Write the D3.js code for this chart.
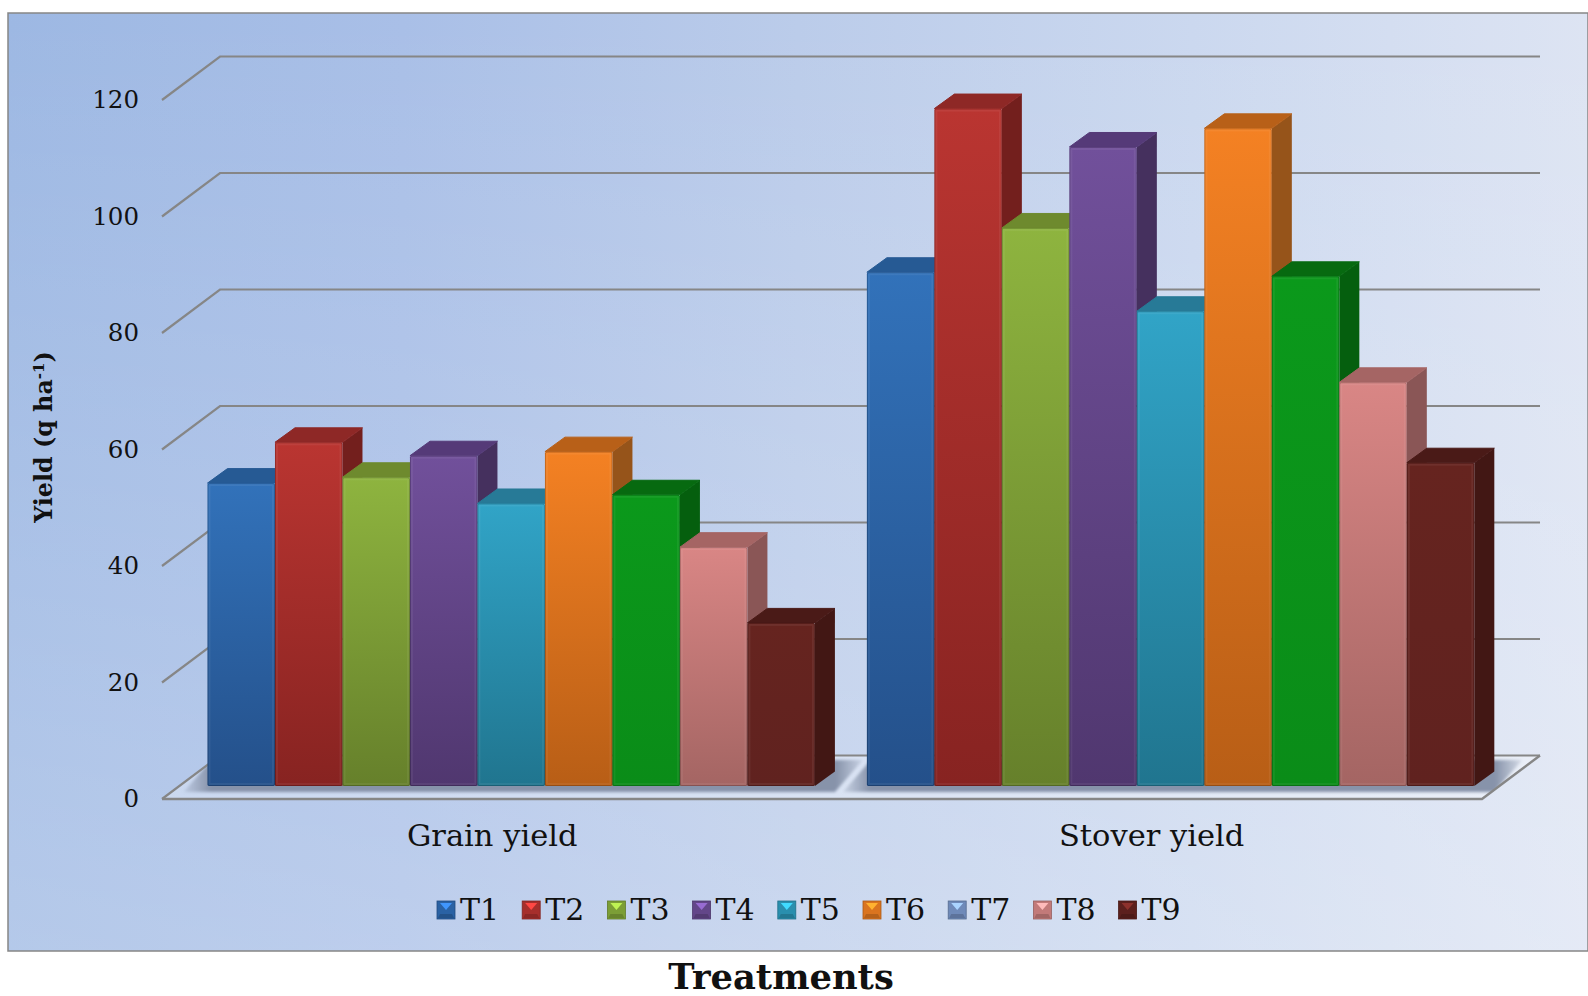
<!DOCTYPE html>
<html>
<head>
<meta charset="utf-8">
<script src="https://cdn.jsdelivr.net/npm/d3@7"></script>
<style>
html,body{margin:0;padding:0;background:#fff}
svg{display:block}
text{font-family:"DejaVu Serif",serif;fill:#111}
</style>
</head>
<body>
<svg id="chart" width="1588" height="996"></svg>
<script>
// Yield by treatment, drawn as a 3-D style clustered column chart.
const categories = ["Grain yield", "Stover yield"];
const treatments = ["T1", "T2", "T3", "T4", "T5", "T6", "T7", "T8", "T9"];
const grainYield = [52, 59, 53, 56.7, 48.5, 57.4, 50, 41, 28];
const stoverYield = [88.2, 116.3, 95.8, 109.7, 81.5, 112.9, 87.5, 69.3, 55.5];
const yTicks = [0, 20, 40, 60, 80, 100, 120];

const faceTop    = ["#3272ba", "#ba3531", "#8eb43f", "#71509b", "#31a4c7", "#f48123", "#0b991b", "#d98685", "#66241f"];
const faceBottom = ["#24508a", "#872321", "#66802b", "#50376f", "#20758f", "#b85e16", "#0a8c18", "#a46563", "#60221f"];
const capColor   = ["#265a94", "#8e2826", "#6e8a2e", "#553a78", "#277a97", "#b86018", "#076a10", "#a56564", "#4a1a17"];
const sideColor  = ["#234f82", "#731f1d", "#5d7526", "#45305e", "#1f6a84", "#96541a", "#055f0e", "#8a5656", "#421714"];
const keyColor   = ["#2a62a4", "#a62f2c", "#7c9e36", "#634689", "#2a8fae", "#da741f", "#6f8ab9", "#c27a79", "#5c201d"];

const svg = d3.select("#chart");
const defs = svg.append("defs");

// Frame geometry of the plot box
const frame = {x: 8, y: 13, w: 1580, h: 938};
const front = {left: 162, right: 1482, base: 799};
const wall = {dx: 58, dy: -43.5};
const barDepthShift = {dx: 19, dy: -13};
const barThick = {dx: 20, dy: -14.5};

const yScale = d3.scaleLinear().domain([0, 120]).range([front.base, front.base - 699]);
const xGroup = d3.scaleBand().domain(categories).range([162.5, 1481.3]);
const xBar = d3.scaleBand().domain(treatments).range([0, xGroup.bandwidth()]).paddingInner(0).paddingOuter(0.385);

// Panel background: a left-to-right wash with a pale veil rising from the bottom
const bg = defs.append("linearGradient").attr("id", "panelBg");
[["0%", "#9db8e3"], ["25%", "#a9bfe7"], ["50%", "#bbccea"], ["75%", "#cbd8ef"], ["100%", "#dde4f3"]]
  .forEach(([o, c]) => bg.append("stop").attr("offset", o).attr("stop-color", c));
const veil = defs.append("linearGradient").attr("id", "panelVeil").attr("x1", 0).attr("y1", 0).attr("x2", 0).attr("y2", 1);
[["0%", 0], ["100%", 0.24]]
  .forEach(([o, a]) => veil.append("stop").attr("offset", o).attr("stop-color", "#fff").attr("stop-opacity", a));
svg.append("rect").attr("x", frame.x).attr("y", frame.y).attr("width", frame.w).attr("height", frame.h)
  .attr("fill", "url(#panelBg)");
svg.append("rect").attr("x", frame.x).attr("y", frame.y).attr("width", frame.w).attr("height", frame.h)
  .attr("fill", "url(#panelVeil)").attr("stroke", "#868686").attr("stroke-width", 1.5);

const gridColor = "#868686";
const poly = pts => pts.map(p => p.join(",")).join(" ");

// Floor
const base0 = yScale(0);
svg.append("polygon")
  .attr("points", poly([[front.left, base0], [front.right, base0], [front.right + wall.dx, base0 + wall.dy], [front.left + wall.dx, base0 + wall.dy]]))
  .attr("fill", "#ffffff").attr("fill-opacity", 0.3);

defs.append("clipPath").attr("id", "floorClip").append("polygon")
  .attr("points", poly([[front.left, base0 - 1], [front.right, base0 - 1], [front.right + wall.dx, base0 + wall.dy], [front.left + wall.dx, base0 + wall.dy]]));
defs.append("filter").attr("id", "soft").attr("x", "-5%").attr("y", "-20%").attr("width", "110%").attr("height", "140%")
  .append("feGaussianBlur").attr("stdDeviation", 1.6);
const fade = defs.append("linearGradient").attr("id", "shadowFade");
[["0%", 0.2], ["4%", 1], ["96%", 1], ["100%", 0.2]]
  .forEach(([o, a]) => fade.append("stop").attr("offset", o).attr("stop-color", "#8793aa").attr("stop-opacity", a));

// Soft shadow pooled under each cluster
const shadowLayer = svg.append("g").attr("clip-path", "url(#floorClip)");
categories.forEach(c => {
  const x0 = xGroup(c) + xBar("T1") + barDepthShift.dx - 24;
  const x1 = xGroup(c) + xBar("T9") + xBar.bandwidth() + barDepthShift.dx + 20;
  const yF = base0 + barDepthShift.dy + 6;
  shadowLayer.append("polygon")
    .attr("points", poly([[x0, yF], [x1, yF], [x1 + 28, yF - 32], [x0 + 28, yF - 32]]))
    .attr("fill", "url(#shadowFade)").attr("filter", "url(#soft)");
});

// Gridlines on the side and back walls
const gridLayer = svg.append("g").attr("fill", "none").attr("stroke", gridColor);
yTicks.forEach(t => {
  const y = yScale(t);
  gridLayer.append("polyline")
    .attr("stroke-width", 2.2)
    .attr("points", poly([[front.left, y], [front.left + wall.dx, y + wall.dy], [front.right + wall.dx, y + wall.dy]]));
});
// Front and right edges of the floor
gridLayer.append("polyline").attr("stroke-width", 2.4)
  .attr("points", poly([[front.left, base0], [front.right, base0], [front.right + wall.dx, base0 + wall.dy]]));

// Vertical gradient for each column's front face
treatments.forEach((t, i) => {
  const g = defs.append("linearGradient").attr("id", "face" + t).attr("x1", 0).attr("y1", 0).attr("x2", 0).attr("y2", 1);
  g.append("stop").attr("offset", "0%").attr("stop-color", faceTop[i]);
  g.append("stop").attr("offset", "100%").attr("stop-color", faceBottom[i]);
});

// Columns, painted left to right so each one overlaps its neighbour's side
const seriesByCategory = [grainYield, stoverYield];
categories.forEach((c, ci) => {
  const group = svg.append("g").attr("class", "cluster");
  seriesByCategory[ci].forEach((v, i) => {
    const t = treatments[i];
    const w = xBar.bandwidth();
    const x = xGroup(c) + xBar(t) + barDepthShift.dx;
    const yBase = yScale(0) + barDepthShift.dy;
    const yTop = yScale(v) + barDepthShift.dy;
    const d = barThick;
    group.append("polygon")
      .attr("points", poly([[x + w, yTop], [x + w + d.dx, yTop + d.dy], [x + w + d.dx, yBase + d.dy], [x + w, yBase]]))
      .attr("fill", sideColor[i]);
    group.append("polygon")
      .attr("points", poly([[x, yTop], [x + d.dx, yTop + d.dy], [x + w + d.dx, yTop + d.dy], [x + w, yTop]]))
      .attr("fill", capColor[i]).attr("stroke", capColor[i]).attr("stroke-width", 1).attr("stroke-linejoin", "round");
    group.append("rect")
      .attr("x", x).attr("y", yTop).attr("width", w).attr("height", yBase - yTop).attr("rx", 1.5)
      .attr("fill", `url(#face${t})`);
    // Bevelled rim of the front face
    group.append("rect")
      .attr("x", x + 0.5).attr("y", yTop + 0.5).attr("width", w - 1).attr("height", yBase - yTop - 1).attr("rx", 1.5)
      .attr("fill", "none").attr("stroke", "#000").attr("stroke-opacity", 0.18).attr("stroke-width", 1);
    group.append("rect")
      .attr("x", x + 2).attr("y", yTop + 2).attr("width", w - 4).attr("height", yBase - yTop - 4)
      .attr("fill", "none").attr("stroke", "#fff").attr("stroke-opacity", 0.06).attr("stroke-width", 2);
  });
});

// Value axis labels
const yAxis = svg.append("g").attr("transform", "translate(139,0)")
  .call(d3.axisLeft(yScale).tickValues(yTicks).tickSize(0).tickPadding(0));
yAxis.select(".domain").remove();
yAxis.selectAll("text").style("font-family", '"DejaVu Serif",serif').style("font-size", "24.5px").attr("fill", "#111");

// Category labels
const xAxis = svg.append("g").attr("transform", "translate(0,846)")
  .call(d3.axisBottom(xGroup).tickSize(0).tickPadding(0));
xAxis.select(".domain").remove();
xAxis.selectAll("text").attr("dy", 0).attr("y", 0)
  .style("font-family", '"DejaVu Serif",serif').style("font-size", "30.5px").attr("fill", "#111");

// Legend
const xLegend = d3.scaleBand().domain(treatments).range([437, 437 + 85.2 * 9]);
const keySize = 18, keyTop = 901;
const legend = svg.append("g").selectAll("g").data(treatments).join("g")
  .attr("transform", d => `translate(${xLegend(d)},${keyTop})`);
legend.append("rect").attr("width", keySize).attr("height", keySize)
  .attr("fill", (d, i) => keyColor[i]).attr("stroke", (d, i) => d3.color(keyColor[i]).darker(0.7)).attr("stroke-width", 0.8);
legend.append("polygon")
  .attr("points", poly([[3, 2], [keySize - 3, 2], [keySize / 2, keySize * 0.5]]))
  .attr("fill", (d, i) => d3.color(keyColor[i]).brighter(1.2));
legend.append("polygon")
  .attr("points", poly([[1, keySize - 1], [keySize - 1, keySize - 1], [keySize - 3, keySize - 5], [3, keySize - 5]]))
  .attr("fill", (d, i) => d3.color(keyColor[i]).darker(0.5));
legend.append("text").attr("x", keySize + 5).attr("y", 19).attr("font-size", 30).text(d => d);

// Axis titles
svg.append("text").attr("x", 781).attr("y", 989).attr("text-anchor", "middle")
  .attr("font-size", 35.3).attr("font-weight", 700).attr("fill", "#000").text("Treatments");

const yTitle = svg.append("text").attr("transform", "translate(52,437) rotate(-90)")
  .attr("text-anchor", "middle").attr("font-size", 23.8).attr("font-weight", 700).attr("fill", "#000");
yTitle.append("tspan").text("Yield (q ha");
yTitle.append("tspan").attr("dy", -8).attr("font-size", 15).text("-1");
yTitle.append("tspan").attr("dy", 8).text(")");
</script>
</body>
</html>
